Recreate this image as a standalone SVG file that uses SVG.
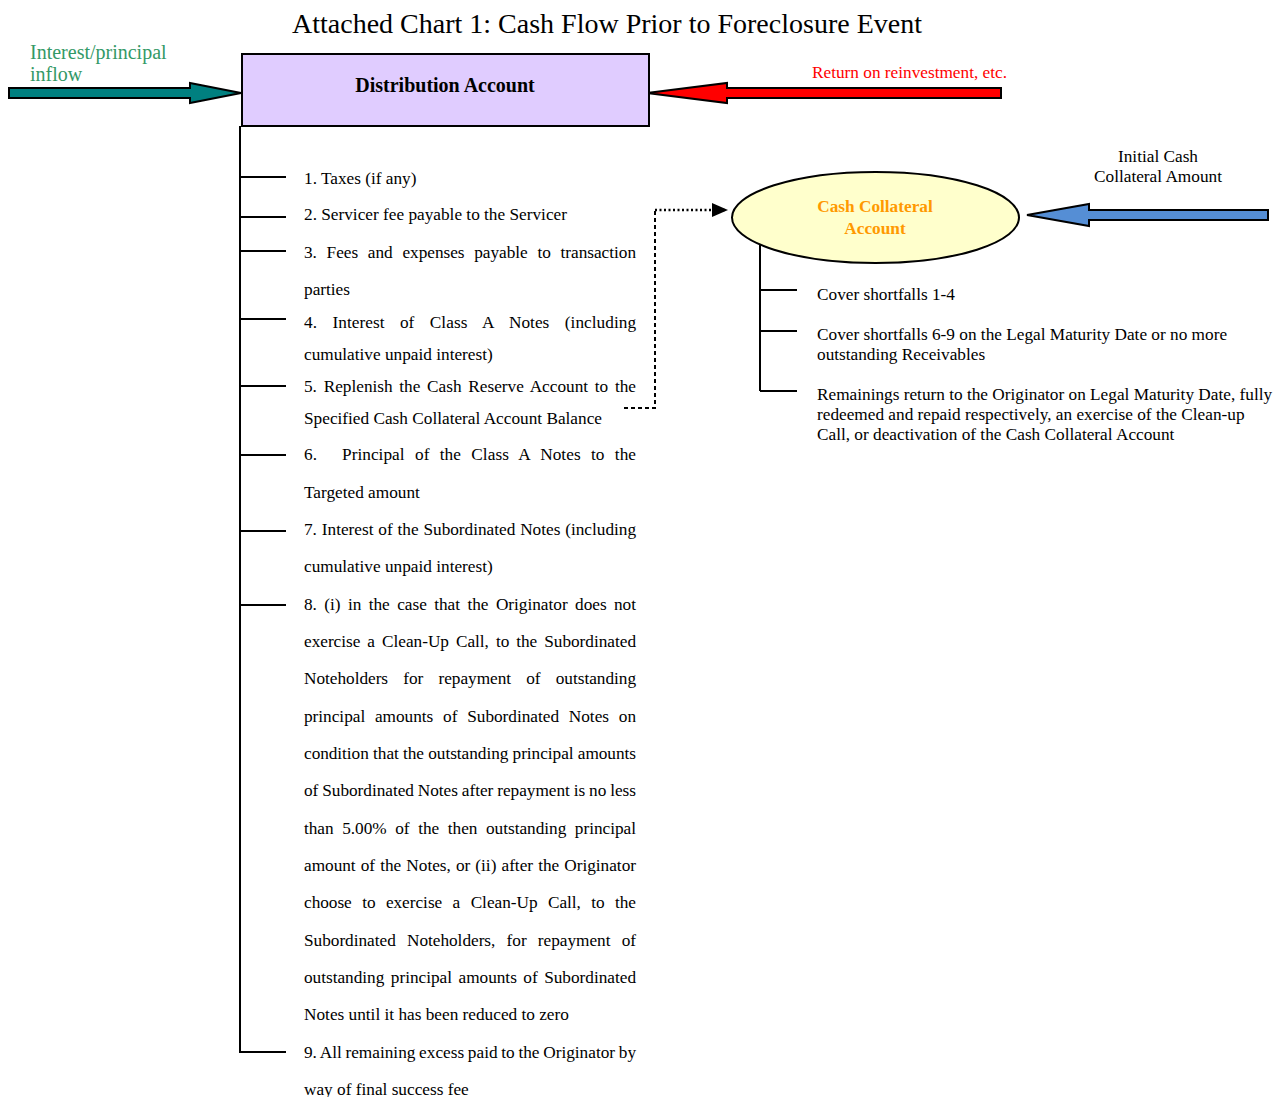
<svg xmlns="http://www.w3.org/2000/svg" width="1276" height="1097" viewBox="0 0 1276 1097">
<style>
text{font-family:"Liberation Serif","Times New Roman",serif;font-size:17.25px;fill:#000}
.title{font-size:28px}
.tick{stroke:#000;stroke-width:2;fill:none}
.arrow{stroke:#000;stroke-width:2;stroke-linejoin:miter}
</style>
<defs>
<marker id="tri" markerWidth="16" markerHeight="14" refX="15" refY="7" orient="auto" markerUnits="userSpaceOnUse" viewBox="0 0 16 14">
<path d="M0,0 L16,7 L0,14 Z" fill="#000"/>
</marker>
</defs>
<rect width="1276" height="1097" fill="#fff"/>
<text class="title" x="607" y="33" text-anchor="middle">Attached Chart 1: Cash Flow Prior to Foreclosure Event</text>

<g id="inflow-arrow">
<polygon class="arrow" fill="#008080" points="9,88 190,88 190,83 241,93 190,103 190,98 9,98"/>
<text x="30" y="59" style="font-size:20px;fill:#339966">Interest/principal</text>
<text x="30" y="81" style="font-size:20px;fill:#339966">inflow</text>
</g>

<g id="reinvest-arrow">
<polygon class="arrow" fill="#ff0000" points="1001,88 727,88 727,83 647,93 727,103 727,98 1001,98"/>
<text x="812" y="78" style="fill:#ff0000">Return on reinvestment, etc.</text>
</g>

<g id="initial-arrow">
<polygon class="arrow" fill="#558ed5" points="1268,210 1089,210 1089,204 1027,215 1089,226 1089,220 1268,220"/>
<text x="1158" y="162" text-anchor="middle">Initial Cash</text>
<text x="1158" y="182" text-anchor="middle">Collateral Amount</text>
</g>

<g id="distribution-account">
<rect x="242" y="54" width="407" height="72" fill="#e0ccff" stroke="#000" stroke-width="2"/>
<text x="445" y="92" text-anchor="middle" style="font-weight:bold;font-size:20px">Distribution Account</text>
</g>

<g id="cash-collateral-account">
<ellipse cx="875.5" cy="217.5" rx="143.5" ry="45.5" fill="#ffffcc" stroke="#000" stroke-width="2"/>
<text x="875" y="212" text-anchor="middle" style="font-weight:bold;fill:#ff9900">Cash Collateral</text>
<text x="875" y="234" text-anchor="middle" style="font-weight:bold;fill:#ff9900">Account</text>
</g>

<g id="connectors">
<path class="tick" d="M240,126 V1053"/>
<path class="tick" d="M239,177 H286 M239,217 H286 M239,251 H286 M239,319 H286 M239,386 H286 M239,455 H286 M239,531 H286 M239,605 H286 M239,1052 H286"/>
<path class="tick" d="M760,245 V391"/>
<path class="tick" d="M760,290 H797 M760,331 H797 M760,391 H797"/>
<path d="M624,408 H655 V211" fill="none" stroke="#000" stroke-width="2" stroke-dasharray="4,3"/>
<path d="M655,210 H727" fill="none" stroke="#000" stroke-width="2.5" stroke-dasharray="2,2.5" marker-end="url(#tri)"/>
</g>

<g id="distribution-list">
<text x="304" y="184">1. Taxes (if any)</text>
<text x="304" y="220">2. Servicer fee payable to the Servicer</text>
<text x="304" y="258" word-spacing="5.4" textLength="332" lengthAdjust="spacing">3. Fees and expenses payable to transaction</text>
<text x="304" y="295">parties</text>
<text x="304" y="328" word-spacing="11.1" textLength="332" lengthAdjust="spacing">4. Interest of Class A Notes (including</text>
<text x="304" y="360">cumulative unpaid interest)</text>
<text x="304" y="392" word-spacing="2.4" textLength="332" lengthAdjust="spacing">5. Replenish the Cash Reserve Account to the</text>
<text x="304" y="424">Specified Cash Collateral Account Balance</text>
<text x="304" y="460">6.</text>
<text x="342" y="460" word-spacing="6" textLength="294" lengthAdjust="spacing">Principal of the Class A Notes to the</text>
<text x="304" y="498">Targeted amount</text>
<text x="304" y="535" word-spacing="0.6" textLength="332" lengthAdjust="spacing">7. Interest of the Subordinated Notes (including</text>
<text x="304" y="572">cumulative unpaid interest)</text>
<text x="304" y="610" word-spacing="3.1" textLength="332" lengthAdjust="spacing">8. (i) in the case that the Originator does not</text>
<text x="304" y="647" word-spacing="2.7" textLength="332" lengthAdjust="spacing">exercise a Clean-Up Call, to the Subordinated</text>
<text x="304" y="684" word-spacing="10.9" textLength="332" lengthAdjust="spacing">Noteholders for repayment of outstanding</text>
<text x="304" y="722" word-spacing="5.5" textLength="332" lengthAdjust="spacing">principal amounts of Subordinated Notes on</text>
<text x="304" y="759" textLength="332" lengthAdjust="spacing">condition that the outstanding principal amounts</text>
<text x="304" y="796" word-spacing="-0.4" textLength="332" lengthAdjust="spacing">of Subordinated Notes after repayment is no less</text>
<text x="304" y="834" word-spacing="4.3" textLength="332" lengthAdjust="spacing">than 5.00% of the then outstanding principal</text>
<text x="304" y="871" word-spacing="0.8" textLength="332" lengthAdjust="spacing">amount of the Notes, or (ii) after the Originator</text>
<text x="304" y="908" word-spacing="6.1" textLength="332" lengthAdjust="spacing">choose to exercise a Clean-Up Call, to the</text>
<text x="304" y="946" word-spacing="6.9" textLength="332" lengthAdjust="spacing">Subordinated Noteholders, for repayment of</text>
<text x="304" y="983" word-spacing="2.2" textLength="332" lengthAdjust="spacing">outstanding principal amounts of Subordinated</text>
<text x="304" y="1020">Notes until it has been reduced to zero</text>
<text x="304" y="1058" word-spacing="-0.6" textLength="332" lengthAdjust="spacing">9. All remaining excess paid to the Originator by</text>
<text x="304" y="1095">way of final success fee</text>
</g>

<g id="collateral-list">
<text x="817" y="300">Cover shortfalls 1-4</text>
<text x="817" y="340">Cover shortfalls 6-9 on the Legal Maturity Date or no more</text>
<text x="817" y="360">outstanding Receivables</text>
<text x="817" y="400">Remainings return to the Originator on Legal Maturity Date, fully</text>
<text x="817" y="420">redeemed and repaid respectively, an exercise of the Clean-up</text>
<text x="817" y="440">Call, or deactivation of the Cash Collateral Account</text>
</g>
</svg>
